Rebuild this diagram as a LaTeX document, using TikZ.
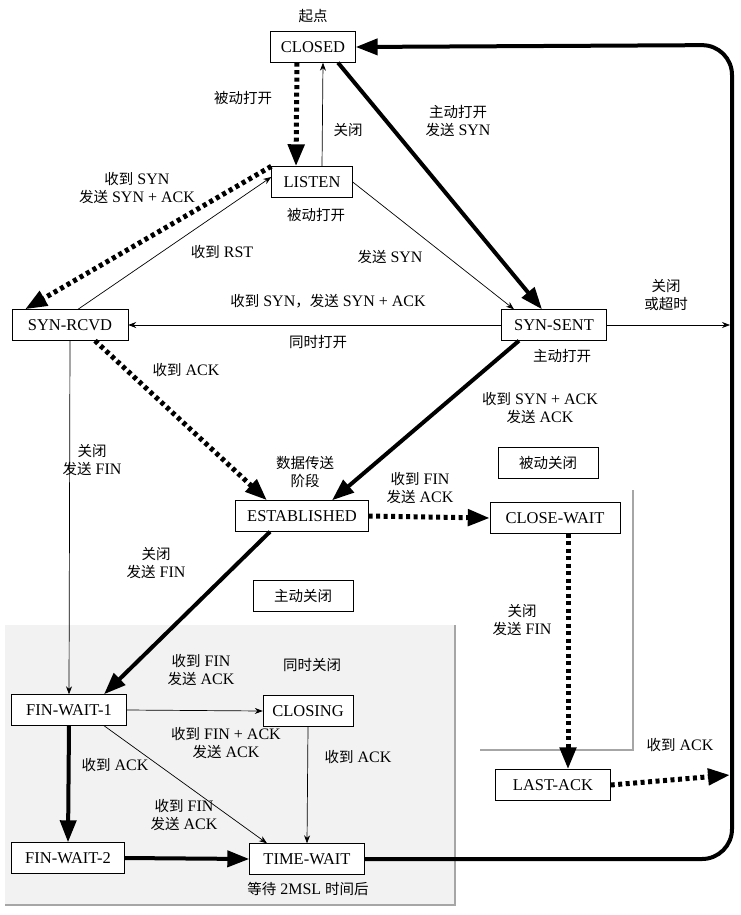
\documentclass[tikz,border=0pt]{standalone}
\usepackage{fontspec}
\setmainfont{Liberation Serif}
\newfontfamily\cjk{Noto Sans CJK SC}
\newcommand{\zh}[1]{{\cjk\fontsize{14.5}{17}\selectfont #1}}
\usetikzlibrary{arrows.meta}
\begin{document}
\begin{tikzpicture}[x=1pt,y=-1pt,
  st/.style={draw,thin,fill=white,inner sep=0pt,minimum height=31pt,font=\fontsize{16.5}{18}\selectfont},
  lb/.style={align=center,font=\fontsize{16}{18}\selectfont,inner sep=1pt},
  thn/.style={draw,line width=0.7pt,-{Stealth[length=8pt,width=6pt]}},
  thk/.style={draw,line width=4pt,-{Triangle[length=22pt,width=16pt]}},
  dot/.style={draw,line width=5pt,dash pattern=on 4pt off 3.5pt,-{Triangle[length=22pt,width=16pt]}}]
\useasboundingbox (0,0) rectangle (740,915);
% shaded regions
\fill[gray!10] (5,625) rectangle (455,905);
\draw[gray!70,line width=1.5pt] (455,625) -- (455,905) -- (5,905);
\draw[gray!70,line width=1.5pt] (633,490) -- (633,750) -- (480,750);
\node[st,minimum width=100pt] (pc) at (548,463) {\zh{被动关闭}};
\node[st,minimum width=100pt] (ac) at (303,596) {\zh{主动关闭}};
% states
\node[st,minimum width=85pt] (closed) at (313,47) {CLOSED};
\node[st,minimum width=81pt] (listen) at (312,182) {LISTEN};
\node[st,minimum width=116pt] (rcvd) at (70,325) {SYN-RCVD};
\node[st,minimum width=105pt] (sent) at (554,325) {SYN-SENT};
\node[st,minimum width=133pt] (est) at (302,516) {ESTABLISHED};
\node[st,minimum width=130pt] (cw) at (555,518) {CLOSE-WAIT};
\node[st,minimum width=115pt] (fw1) at (69,710) {FIN-WAIT-1};
\node[st,minimum width=90pt] (closing) at (308,711) {CLOSING};
\node[st,minimum width=115pt] (la) at (553,785) {LAST-ACK};
\node[st,minimum width=113pt] (fw2) at (68,858) {FIN-WAIT-2};
\node[st,minimum width=115pt] (tw) at (307,859) {TIME-WAIT};
\coordinate (e1) at (730,325);
\coordinate (e2) at (730,775);
% edges
\draw[dot] ([xshift=-16pt]closed.south) -- ([xshift=-16pt]listen.north);
\draw[thn] ([xshift=10pt]listen.north) -- ([xshift=10pt]closed.south);
\draw[thk] ([xshift=25pt]closed.south) -- ([xshift=-12pt]sent.north);
\draw[dot] (listen.north west) -- ([xshift=-45pt]rcvd.north);
\draw[thn] ([xshift=8pt]rcvd.north) -- ([yshift=5pt]listen.west);
\draw[thn] (listen.east) -- ([xshift=-40pt]sent.north);
\draw[thn] (sent.west) -- (rcvd.east);
\draw[thn] (sent.east) -- (e1);
\draw[dot] ([xshift=25pt]rcvd.south) -- ([xshift=-35pt]est.north);
\draw[thk] ([xshift=-35pt]sent.south) -- ([xshift=30pt]est.north);
\draw[thn] (rcvd.south) -- (fw1.north);
\draw[dot] (est.east) -- (cw.west);
\draw[thk] ([xshift=-32pt]est.south) -- ([xshift=35pt]fw1.north);
\draw[dot] ([xshift=13pt]cw.south) -- ([xshift=15pt]la.north);
\draw[dot] (la.east) -- (e2);
\draw[thn] (fw1.east) -- (closing.west);
\draw[thn] ([xshift=35pt]fw1.south) -- ([xshift=-40pt]tw.north);
\draw[thn] (closing.south) -- (tw.north);
\draw[thk] (fw1.south) -- (fw2.north);
\draw[thk] (fw2.east) -- (tw.west);
\draw[line width=4pt,-{Triangle[length=22pt,width=16pt]},rounded corners=30pt] (tw.east) -- (732,859) -- (732,45) -- (closed.east);
% labels
\node[lb] (l1) at (313,16) {\zh{起点}};
\node[lb] (l2) at (243,98) {\zh{被动打开}};
\node[lb] (l3) at (348,130) {\zh{关闭}};
\node[lb] (l4) at (458,121) {\zh{主动打开}\\\zh{发送} SYN};
\node[lb] (l5) at (137,188) {\zh{收到} SYN\\\zh{发送} SYN + ACK};
\node[lb] (l6) at (316,215) {\zh{被动打开}};
\node[lb] (l7) at (222,252) {\zh{收到} RST};
\node[lb] (l8) at (390,257) {\zh{发送} SYN};
\node[lb] (l9) at (328,301) {\zh{收到} SYN\zh{，}\zh{发送} SYN + ACK};
\node[lb] (l10) at (318,342) {\zh{同时打开}};
\node[lb] (l11) at (666,295) {\zh{关闭}\\\zh{或超时}};
\node[lb] (l12) at (562,356) {\zh{主动打开}};
\node[lb] (l13) at (186,370) {\zh{收到} ACK};
\node[lb] (l14) at (540,408) {\zh{收到} SYN + ACK\\\zh{发送} ACK};
\node[lb] (l15) at (305,472) {\zh{数据传送}\\\zh{阶段}};
\node[lb] (l16) at (420,488) {\zh{收到} FIN\\\zh{发送} ACK};
\node[lb] (l17) at (92,460) {\zh{关闭}\\\zh{发送} FIN};
\node[lb] (l18) at (156,563) {\zh{关闭}\\\zh{发送} FIN};
\node[lb] (l19) at (522,620) {\zh{关闭}\\\zh{发送} FIN};
\node[lb] (l20) at (201,670) {\zh{收到} FIN\\\zh{发送} ACK};
\node[lb] (l21) at (312,665) {\zh{同时关闭}};
\node[lb] (l22) at (226,743) {\zh{收到} FIN + ACK\\\zh{发送} ACK};
\node[lb] (l23) at (115,765) {\zh{收到} ACK};
\node[lb] (l24) at (358,757) {\zh{收到} ACK};
\node[lb] (l25) at (184,815) {\zh{收到} FIN\\\zh{发送} ACK};
\node[lb] (l26) at (308,889) {\zh{等待} 2MSL \zh{时间后}};
\node[lb] (l27) at (680,745) {\zh{收到} ACK};
\end{tikzpicture}
\end{document}
